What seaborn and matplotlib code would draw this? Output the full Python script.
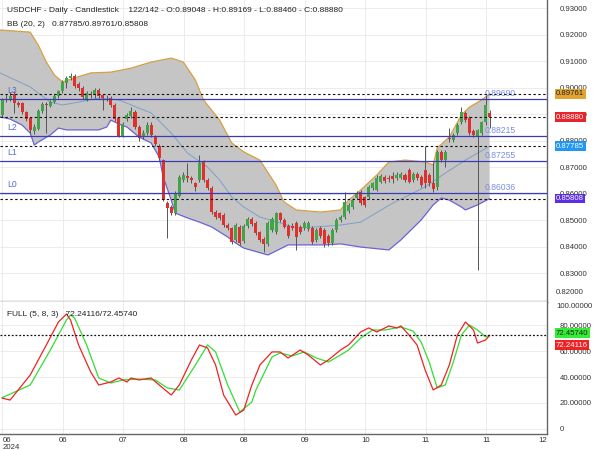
import numpy as np
import matplotlib
matplotlib.use('Agg')
import matplotlib.pyplot as plt
import matplotlib.transforms as mtransforms
import seaborn as sns

# ---------------- data ----------------
opens = [0.8896,0.8955,0.8958,0.8975,0.8940,0.8940,0.8907,0.8885,0.8835,0.8845,
         0.8912,0.8938,0.8930,0.8945,0.8968,0.8985,0.9018,0.9035,0.9042,0.9012,
         0.9000,0.8958,0.8975,0.8970,0.8992,0.8970,0.8962,0.8962,0.8935,0.8885,
         0.8818,0.8880,0.8892,0.8908,0.8852,0.8812,0.8830,0.8860,0.8815,0.8780,
         0.8728,0.8565,0.8550,0.8527,0.8590,0.8652,0.8665,0.8657,0.8638,0.8650,
         0.8718,0.8650,0.8621,0.8530,0.8525,0.8518,0.8482,0.8470,0.8425,0.8475,
         0.8420,0.8478,0.8503,0.8488,0.8455,0.8430,0.8410,0.8462,0.8455,0.8525,
         0.8500,0.8478,0.8478,0.8488,0.8472,0.8470,0.8465,0.8470,0.8425,0.8470,
         0.8462,0.8440,0.8412,0.8462,0.8500,0.8512,0.8535,0.8548,0.8583,0.8605,
         0.8585,0.8585,0.8620,0.8615,0.8645,0.8662,0.8658,0.8665,0.8660,0.8660,
         0.8670,0.8688,0.8650,0.8675,0.8662,0.8690,0.8670,0.8640,0.8625,0.8757,
         0.8727,0.8808,0.8802,0.8828,0.8870,0.8905,0.8885,0.8835,0.8818,0.8828,
         0.8868,0.89048]
highs = [0.8960,0.8975,0.8982,0.8985,0.8950,0.8945,0.8912,0.8890,0.8862,0.8918,
         0.8945,0.8945,0.8952,0.8975,0.8992,0.9028,0.9042,0.9055,0.9050,0.9020,
         0.9005,0.8988,0.8985,0.8998,0.9000,0.8975,0.8972,0.8968,0.8940,0.8890,
         0.8868,0.8902,0.8925,0.8915,0.8858,0.8840,0.8868,0.8868,0.8820,0.8785,
         0.8732,0.8570,0.8555,0.8608,0.8670,0.8680,0.8715,0.8665,0.8645,0.8745,
         0.8725,0.8658,0.8628,0.8538,0.8530,0.8525,0.8488,0.8475,0.8488,0.8480,
         0.8485,0.8510,0.8512,0.8495,0.8460,0.8435,0.8495,0.8512,0.8532,0.8532,
         0.8508,0.8485,0.8488,0.8495,0.8480,0.8495,0.8498,0.8478,0.8470,0.8478,
         0.8468,0.8448,0.8470,0.8508,0.8520,0.8605,0.8565,0.8582,0.8610,0.8612,
         0.8590,0.8632,0.8645,0.8668,0.8672,0.8670,0.8668,0.8680,0.8680,0.8680,
         0.8678,0.8695,0.8682,0.8682,0.8668,0.8778,0.8678,0.8720,0.8765,0.8765,
         0.8765,0.8848,0.8830,0.8865,0.8925,0.8912,0.8892,0.8842,0.8845,0.8875,
         0.8972,0.89169]
lows = [0.8890,0.8945,0.8950,0.8905,0.8925,0.8900,0.8875,0.8825,0.8825,0.8838,
        0.8905,0.8830,0.8925,0.8940,0.8960,0.8980,0.8998,0.9028,0.8998,0.8985,
        0.8958,0.8950,0.8962,0.8962,0.8960,0.8915,0.8950,0.8928,0.8872,0.8815,
        0.8815,0.8875,0.8885,0.8845,0.8800,0.8805,0.8822,0.8812,0.8778,0.8728,
        0.8570,0.8432,0.8518,0.8520,0.8585,0.8645,0.8645,0.8640,0.8610,0.8645,
        0.8645,0.8612,0.8522,0.8505,0.8500,0.8475,0.8462,0.8410,0.8418,0.8405,
        0.8412,0.8470,0.8478,0.8442,0.8418,0.8378,0.8402,0.8455,0.8448,0.8492,
        0.8468,0.8432,0.8462,0.8387,0.8448,0.8462,0.8458,0.8410,0.8418,0.8432,
        0.8400,0.8402,0.8405,0.8455,0.8492,0.8505,0.8528,0.8540,0.8578,0.8558,
        0.8548,0.8578,0.8612,0.8608,0.8638,0.8640,0.8645,0.8640,0.8652,0.8655,
        0.8645,0.8638,0.8642,0.8650,0.8625,0.8620,0.8630,0.8605,0.8615,0.8718,
        0.8700,0.8795,0.8795,0.8820,0.8862,0.8870,0.8820,0.8815,0.8312,0.8820,
        0.8860,0.88460]
closes = [0.8955,0.8958,0.8968,0.8940,0.8935,0.8907,0.8882,0.8840,0.8850,0.8912,
          0.8938,0.8935,0.8945,0.8968,0.8985,0.9020,0.9035,0.9045,0.9005,0.8998,
          0.8965,0.8980,0.8970,0.8990,0.8968,0.8962,0.8960,0.8935,0.8880,0.8818,
          0.8862,0.8895,0.8912,0.8852,0.8810,0.8830,0.8858,0.8820,0.8785,0.8735,
          0.8575,0.8546,0.8527,0.8602,0.8663,0.8670,0.8660,0.8650,0.8625,0.8715,
          0.8652,0.8621,0.8530,0.8512,0.8508,0.8482,0.8470,0.8418,0.8480,0.8415,
          0.8478,0.8502,0.8485,0.8450,0.8425,0.8408,0.8488,0.8505,0.8525,0.8500,
          0.8475,0.8440,0.8470,0.8435,0.8455,0.8488,0.8490,0.8418,0.8462,0.8440,
          0.8408,0.8412,0.8462,0.8500,0.8512,0.8568,0.8558,0.8575,0.8602,0.8565,
          0.8558,0.8625,0.8638,0.8660,0.8665,0.8647,0.8655,0.8655,0.8670,0.8672,
          0.8652,0.8645,0.8675,0.8658,0.8632,0.8640,0.8638,0.8618,0.8757,0.8727,
          0.8757,0.8805,0.8820,0.8858,0.8907,0.8878,0.8828,0.8822,0.8838,0.8868,
          0.8935,0.88880]

# Bollinger band (20, 2): bar index -> price
bb_up_idx = [-0.5, 7, 9, 11, 13, 15, 18, 22, 27, 32, 37, 42, 45, 48, 50, 54, 57, 60,
             64, 68, 70, 73, 79, 84, 86, 89, 93, 96, 100, 105, 107, 108, 111, 114,
             116, 119, 121]
bb_up = [0.9217, 0.9209, 0.9160, 0.9096, 0.9047, 0.9021, 0.9036, 0.9055, 0.9058,
         0.9073, 0.9096, 0.9111, 0.9096, 0.9028, 0.8953, 0.8877, 0.8791, 0.8757,
         0.8726, 0.8632, 0.8568, 0.8538, 0.8530, 0.8538, 0.8575, 0.8613, 0.8670,
         0.8719, 0.8726, 0.8719, 0.8708, 0.8772, 0.8813, 0.8896, 0.8926, 0.8953,
         0.89761]
bb_lo_idx = [-0.5, 2, 5, 7, 8, 9, 12, 14, 16, 20, 24, 26, 27, 29, 31, 34, 37, 39,
             40, 42, 43, 46, 49, 52, 56, 58, 60, 66, 71, 80, 84, 89, 96, 99, 104,
             107, 109, 111, 114, 115, 118, 121]
bb_lo = [0.8889, 0.8881, 0.8858, 0.8828, 0.8783, 0.8794, 0.8821, 0.8847, 0.8840,
         0.8840, 0.8840, 0.8851, 0.8877, 0.8862, 0.8851, 0.8813, 0.8791, 0.8738,
         0.8662, 0.8575, 0.8526, 0.8508, 0.8492, 0.8474, 0.8436, 0.8413, 0.8394,
         0.8368, 0.8406, 0.8406, 0.8410, 0.8398, 0.8387, 0.8425, 0.8500, 0.8557,
         0.8583, 0.8575, 0.8549, 0.8538, 0.8557, 0.85808]
bb_mid_idx = [-0.5, 7, 12, 15, 19, 24, 29, 37, 42, 46, 51, 54, 57, 60, 64, 69, 73,
              78, 84, 89, 97, 101, 105, 110, 115, 121]
bb_mid = [0.9055, 0.9002, 0.8945, 0.8934, 0.8945, 0.8960, 0.8953, 0.8904, 0.8828,
          0.8753, 0.8700, 0.8651, 0.8587, 0.8549, 0.8511, 0.8489, 0.8470, 0.8474,
          0.8481, 0.8492, 0.8564, 0.8594, 0.8625, 0.8677, 0.8726, 0.87785]

# Stochastic FULL (5, 8, 3)
stoch_k_idx = [0, 2, 7, 11, 14, 16, 17, 19, 22, 24, 27, 29, 31, 32, 34, 37, 39, 42,
               44, 47, 49, 51, 53, 55, 58, 60, 62, 64, 67, 69, 71, 74, 76, 79, 81,
               84, 86, 89, 91, 93, 96, 98, 99, 101, 103, 105, 107, 109, 111, 113,
               115, 117, 118, 120, 121]
stoch_k = [23.8, 22.2, 41.6, 64.9, 82.7, 88.9, 84.3, 64.9, 44.0, 33.9, 36.2, 39.3,
           36.2, 39.3, 37.8, 39.3, 33.9, 26.1, 33.9, 53.3, 64.9, 62.6, 49.4, 26.1,
           10.6, 14.5, 33.9, 49.4, 59.5, 59.5, 54.8, 61.0, 57.1, 49.4, 53.3, 61.0,
           64.9, 75.0, 78.1, 75.0, 79.6, 78.1, 79.6, 72.6, 64.9, 45.5, 30.0, 33.9,
           49.4, 72.6, 82.7, 76.5, 66.4, 68.8, 72.24116]
stoch_d_idx = [0, 7, 12, 16, 17, 18, 21, 24, 27, 30, 34, 38, 41, 44, 48, 51, 53, 56,
               59, 62, 63, 67, 69, 72, 75, 78, 81, 84, 86, 89, 92, 95, 99, 102, 104,
               106, 108, 110, 112, 114, 116, 118, 120, 121]
stoch_d = [24.0, 33.9, 61.0, 84.3, 88.1, 85.8, 64.9, 39.3, 35.4, 37.8, 38.5, 37.8,
           31.6, 30.0, 49.4, 64.9, 59.5, 33.9, 13.0, 20.7, 30.0, 55.6, 58.7, 56.4,
           59.5, 54.8, 51.7, 57.1, 61.0, 70.3, 76.5, 76.5, 78.8, 75.7, 67.2, 51.7,
           31.6, 33.9, 51.7, 72.6, 80.4, 76.5, 71.1, 72.45740]

level_names = ['L0', 'L1', 'L2', 'L3']
level_values = [0.86008, 0.87226, 0.88170, 0.89566]
level_labels = ['0.86036', '0.87255', '0.88215', '0.89690']

marker_values = [0.89761, 0.88880, 0.87785, 0.85808]
marker_labels = ['0.89761', '0.88880', '0.87785', '0.85808']

month_labels = ['06', '06', '07', '08', '08', '09', '10', '11', '11', '12']
price_ticks = [0.82, 0.83, 0.84, 0.85, 0.86, 0.87, 0.88, 0.89, 0.90, 0.91, 0.92, 0.93]
stoch_ticks = [0, 20, 40, 60, 80, 100]

# ---------------- style ----------------
sns.set_theme(style='white')
plt.rcParams['font.family'] = ['Liberation Sans', 'DejaVu Sans']
TXT = '#333333'
FS = 5.6

fig = plt.figure(figsize=(6, 4.5), dpi=100)
W, H = 600.0, 450.0
ax1 = fig.add_axes([0, 1 - 302 / H, 547 / W, 302 / H])
ax2 = fig.add_axes([0, 1 - 434 / H, 547 / W, 132 / H])

xmin, xmax = -0.5, 135.24
xt = [0.12 + 15.01 * k for k in range(len(month_labels))]

for ax in (ax1, ax2):
    ax.set_xlim(xmin, xmax)
    ax.set_facecolor('white')
    ax.set_xticks(xt)
    ax.grid(True, color='#e9e9e9', lw=0.6, zorder=0)
    ax.set_axisbelow(True)
    for s in ('left', 'top'):
        ax.spines[s].set_visible(False)
    ax.spines['right'].set_color('#666666')
    ax.spines['right'].set_linewidth(1.0)
    ax.spines['bottom'].set_color('#666666')
    ax.spines['bottom'].set_linewidth(1.0)
    ax.yaxis.tick_right()
    ax.tick_params(axis='y', length=0, pad=9, labelsize=FS, colors=TXT)
    ax.tick_params(axis='x', length=0)

# ---- top panel ----
ax1.set_ylim(0.81906, 0.93302)
ax1.set_yticks(price_ticks)
ax1.set_yticklabels(['' if v == price_ticks[0] else f'{v:.5f}' for v in price_ticks])
ax1.text(1.0165, 10 / 302, f'{price_ticks[0]:.5f}', transform=ax1.transAxes,
         fontsize=FS, color=TXT, va='center', ha='left', clip_on=False)
ax1.tick_params(axis='x', labelbottom=False)

poly_x = np.r_[bb_up_idx, bb_lo_idx[::-1]]
poly_y = np.r_[bb_up, bb_lo[::-1]]
ax1.fill(poly_x, poly_y, color='#c5c5c5', lw=0, zorder=1)
sns.lineplot(x=bb_up_idx, y=bb_up, ax=ax1, color='#d8a040', lw=0.9, sort=False,
             estimator=None, zorder=2)
sns.lineplot(x=bb_lo_idx, y=bb_lo, ax=ax1, color='#6b63d6', lw=0.9, sort=False,
             estimator=None, zorder=2)
sns.lineplot(x=bb_mid_idx, y=bb_mid, ax=ax1, color='#7f9fc8', lw=0.7, sort=False,
             estimator=None, zorder=2)

idx = np.arange(len(closes))
o = np.array(opens); c = np.array(closes); h = np.array(highs); l = np.array(lows)
up = c >= o
ax1.vlines(idx, l, h, color='#555555', lw=0.7, zorder=3)
body = np.maximum(np.abs(c - o), 0.00012)
ax1.bar(idx[up], body[up], bottom=np.minimum(o, c)[up], width=0.75,
        color='#43a34a', lw=0, zorder=4)
ax1.bar(idx[~up], body[~up], bottom=np.minimum(o, c)[~up], width=0.75,
        color='#e0302e', lw=0, zorder=4)

for name, val, lab in zip(level_names, level_values, level_labels):
    ax1.axhline(val, color='#3b3bb5', lw=0.9, zorder=5)
    ax1.annotate(name, xy=(0, val), xycoords=('axes fraction', 'data'),
                 xytext=(5, 3), textcoords='offset points', fontsize=6.2,
                 color='#5a6ad6', va='bottom', ha='left')
    ax1.annotate(lab, xy=(119.8, val), xycoords='data', xytext=(0, 0.8),
                 textcoords='offset points', fontsize=6.2, color='#7b8de6',
                 va='bottom', ha='left')

for val in marker_values:
    ax1.axhline(val, color='#111111', lw=0.8, ls=(0, (2.2, 2.2)), zorder=6)

tr1 = mtransforms.blended_transform_factory(ax1.transAxes, ax1.transData)
tag_bg = ['#e2a42e', '#e8232a', '#2196f3', '#5b2ee6']
tag_fg = ['#222222', 'white', 'white', 'white']
for val, lab, bg, fg in zip(marker_values, marker_labels, tag_bg, tag_fg):
    ax1.text(1.0165, val, lab, transform=tr1, fontsize=FS, color=fg, va='center',
             ha='left', clip_on=False, zorder=10,
             bbox=dict(boxstyle='square,pad=0.18', fc=bg, ec='none'))

ax1.text(7 / 547, 1 - 10 / 302,
         'USDCHF - Daily - Candlestick    122/142 - O:0.89048 - H:0.89169 - L:0.88460 - C:0.88880',
         transform=ax1.transAxes, fontsize=6, color='#222222', va='center', ha='left', zorder=11)
ax1.text(7 / 547, 1 - 25 / 302, 'BB (20, 2)   0.87785/0.89761/0.85808',
         transform=ax1.transAxes, fontsize=6, color='#222222', va='center', ha='left', zorder=11)

# ---- bottom panel ----
ax2.set_ylim(-4.1, 98.2)
ax2.set_yticks(stoch_ticks[:-1])
ax2.set_yticklabels(['0' if v == 0 else f'{v:.5f}' for v in stoch_ticks[:-1]])
ax2.text(1.0165, 1 - 4.5 / 132, f'{stoch_ticks[-1]:.5f}', transform=ax2.transAxes,
         fontsize=FS, color=TXT, va='center', ha='left', clip_on=False)

sns.lineplot(x=stoch_d_idx, y=stoch_d, ax=ax2, color='#33dd33', lw=0.9, sort=False,
             estimator=None, zorder=3)
sns.lineplot(x=stoch_k_idx, y=stoch_k, ax=ax2, color='#ee2222', lw=0.9, sort=False,
             estimator=None, zorder=4)
ax2.axhline(72.35, color='#111111', lw=0.9, ls=(0, (1.5, 1.5)), zorder=5)

tr2 = mtransforms.blended_transform_factory(ax2.transAxes, ax2.transData)
ax2.text(1.0165, 72.45740 + 1.5, '72.45740', transform=tr2, fontsize=FS, color='#222222',
         va='center', ha='left', clip_on=False, zorder=10,
         bbox=dict(boxstyle='square,pad=0.18', fc='#33ee33', ec='none'))
ax2.text(1.0165, 72.24116 - 7.5, '72.24116', transform=tr2, fontsize=FS, color='white',
         va='center', ha='left', clip_on=False, zorder=10,
         bbox=dict(boxstyle='square,pad=0.18', fc='#ee2222', ec='none'))
ax2.text(7 / 547, 1 - 12 / 132, 'FULL (5, 8, 3)   72.24116/72.45740',
         transform=ax2.transAxes, fontsize=6, color='#222222', va='center', ha='left', zorder=11)

ax2.set_xticklabels(month_labels)
ax2.tick_params(axis='x', labelsize=FS, colors=TXT, pad=2)
labs = ax2.get_xticklabels()
labs[0].set_text('06\n2024')
ax2.set_xticklabels([t.get_text() for t in labs])
labs = ax2.get_xticklabels()
labs[0].set_ha('left')
labs[0].set_linespacing(0.95)
labs[-1].set_ha('right')
labs[0].set_x(xt[0] + 1.0)

fig.savefig('out.png', dpi=100)
